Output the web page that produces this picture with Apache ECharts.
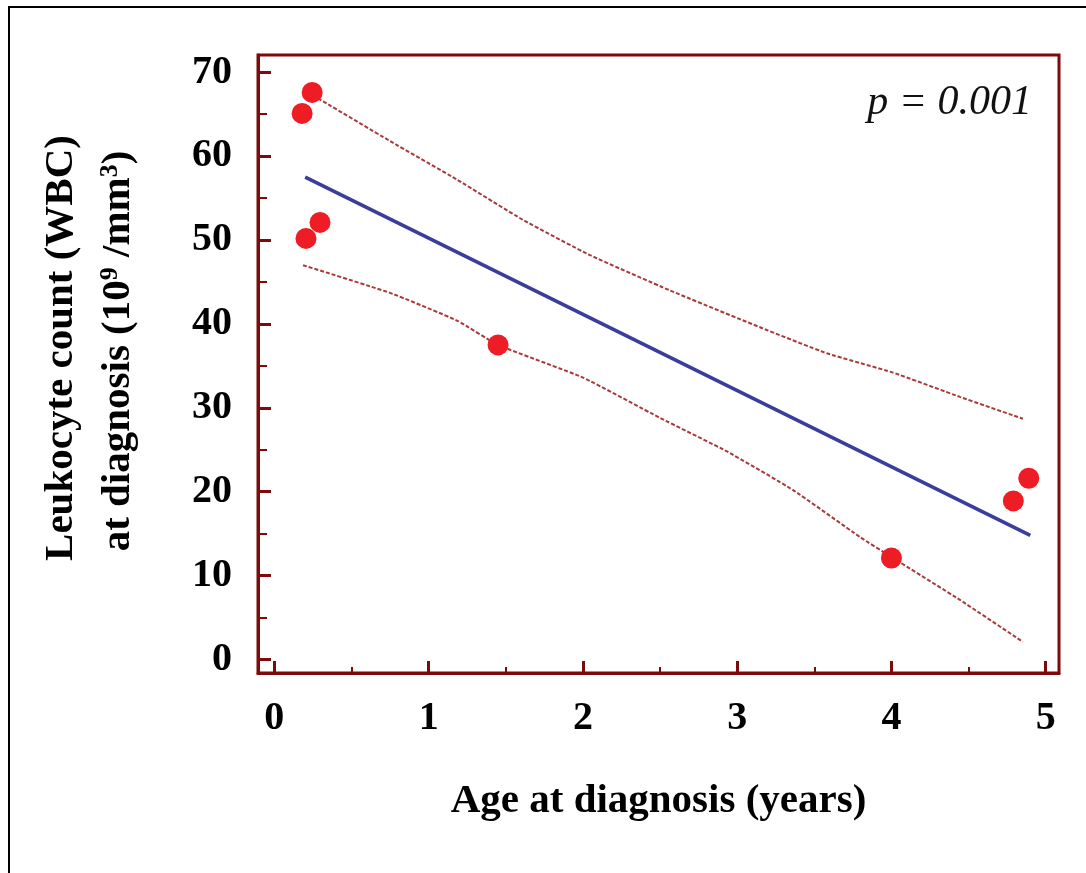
<!DOCTYPE html>
<html>
<head>
<meta charset="utf-8">
<script src="https://cdn.jsdelivr.net/npm/echarts@6/dist/echarts.min.js"></script>
<style>
  html, body { margin: 0; padding: 0; background: #ffffff; }
  #chart { width: 1086px; height: 873px; }
</style>
</head>
<body>
<div id="chart"></div>
<script>
// ---- data ----
const ageYears = [0.18, 0.245, 0.205, 0.296, 1.45, 4.00, 4.79, 4.89];
const wbcCount = [65.1, 67.6, 50.2, 52.1, 37.5, 12.1, 18.9, 21.6];

const fitX = [0.20, 4.90];
const fitY = [57.5, 14.8];

const upperX = [0.283, 0.75, 1.184, 1.612, 2.046, 2.564, 3.148, 3.582, 4.010, 4.444, 4.852];
const upperY = [66.9, 61.8, 57.2, 52.4, 48.2, 44.0, 39.6, 36.5, 34.2, 31.3, 28.7];

const lowerX = [0.186, 0.75, 1.184, 1.45, 2.001, 2.50, 2.934, 3.362, 3.796, 4.010, 4.444, 4.852];
const lowerY = [47.0, 43.7, 40.4, 37.5, 33.6, 28.8, 24.8, 20.2, 14.6, 12.1, 7.1, 2.1];

// axis ranges (the frame) and tick values
const xRange = [-0.106, 5.086];
const yRange = [-1.61, 72.06];
const xTicks = [0, 1, 2, 3, 4, 5];
const xMinorTicks = [0.5, 1.5, 2.5, 3.5, 4.5];
const yTicks = [0, 10, 20, 30, 40, 50, 60, 70];
const yMinorTicks = [5, 15, 25, 35, 45, 55, 65];

const xTitle = 'Age at diagnosis (years)';
const yTitle1 = 'Leukocyte count (WBC)';
const yTitle2 = 'at diagnosis (10{sup|9} /mm{sup|3})';
const pText = 'p = 0.001';

// ---- build chart ----
const zip = (xs, ys) => xs.map((x, i) => [x, ys[i]]);
const frameColor = '#7d0b0b';
const serif = '"Liberation Serif", "Times New Roman", serif';
const labelStyle = { fontFamily: serif, fontWeight: 'bold', fontSize: 40, color: '#000' };

function makeAxis(type, range, ticks, minor, isX) {
  const main = {
    type: 'value', position: isX ? 'bottom' : 'left',
    min: range[0], max: range[1],
    axisLine: { show: true, onZero: false, lineStyle: { color: frameColor, width: 3 } },
    splitLine: { show: false },
    axisTick: { show: true, inside: true, customValues: ticks, length: isX ? 12 : 13,
                lineStyle: { color: frameColor, width: 3 } },
    axisLabel: Object.assign({ customValues: ticks, margin: 26 }, labelStyle)
  };
  const sub = {
    type: 'value', position: isX ? 'bottom' : 'left',
    min: range[0], max: range[1],
    axisLine: { show: false, onZero: false },
    splitLine: { show: false },
    axisTick: { show: true, inside: true, customValues: minor, length: isX ? 6 : 9,
                lineStyle: { color: frameColor, width: 2 } },
    axisLabel: { show: false }
  };
  return [main, sub];
}

const xAxes = makeAxis('x', xRange, xTicks, xMinorTicks, true);
xAxes[0].name = xTitle;
xAxes[0].nameLocation = 'middle';
xAxes[0].nameGap = 108;
xAxes[0].nameTextStyle = { fontFamily: serif, fontWeight: 'bold', fontSize: 41, color: '#000' };
const yAxes = makeAxis('y', yRange, yTicks, yMinorTicks, false);

const chart = echarts.init(document.getElementById('chart'), null, { renderer: 'canvas' });

const option = {
  backgroundColor: '#ffffff',
  animation: false,
  grid: { left: 258, right: 27, top: 55, bottom: 200, containLabel: false,
          show: true, borderColor: frameColor, borderWidth: 3, backgroundColor: 'transparent' },
  xAxis: xAxes,
  yAxis: yAxes,
  graphic: [
    { type: 'rect', z: 100, silent: true,
      shape: { x: 9, y: 7, width: 1200, height: 1000 },
      style: { fill: 'none', stroke: '#000', lineWidth: 2 } },
    { type: 'text', z: 100, silent: true,
      x: 1032, y: 103,
      style: { text: pText, font: 'italic 42px ' + serif, fill: '#111', align: 'right', verticalAlign: 'middle' } },
    { type: 'text', z: 100, silent: true,
      x: 61, y: 348, rotation: Math.PI / 2,
      style: { text: yTitle1, font: 'bold 41px ' + serif, fill: '#000', align: 'center', verticalAlign: 'middle' } },
    { type: 'text', z: 100, silent: true,
      x: 118, y: 351, rotation: Math.PI / 2,
      style: {
        text: yTitle2, font: 'bold 41px ' + serif, fill: '#000', align: 'center', verticalAlign: 'middle',
        rich: {
          sup: { font: 'bold 26px ' + serif, fill: '#000', verticalAlign: 'top', lineHeight: 26 }
        }
      } }
  ],
  series: [
    { type: 'line', data: zip(upperX, upperY), symbol: 'none', smooth: 0.15, z: 2,
      lineStyle: { color: '#a83a3a', width: 2, type: [4, 2] } },
    { type: 'line', data: zip(lowerX, lowerY), symbol: 'none', smooth: 0.15, z: 2,
      lineStyle: { color: '#a83a3a', width: 2, type: [4, 2] } },
    { type: 'line', data: zip(fitX, fitY), symbol: 'none', z: 3,
      lineStyle: { color: '#3a3d9c', width: 3.5 } },
    { type: 'scatter', data: zip(ageYears, wbcCount), symbol: 'circle', symbolSize: 21, z: 5,
      itemStyle: { color: '#ee1c25', opacity: 1 } }
  ]
};
chart.setOption(option);
</script>
</body>
</html>
